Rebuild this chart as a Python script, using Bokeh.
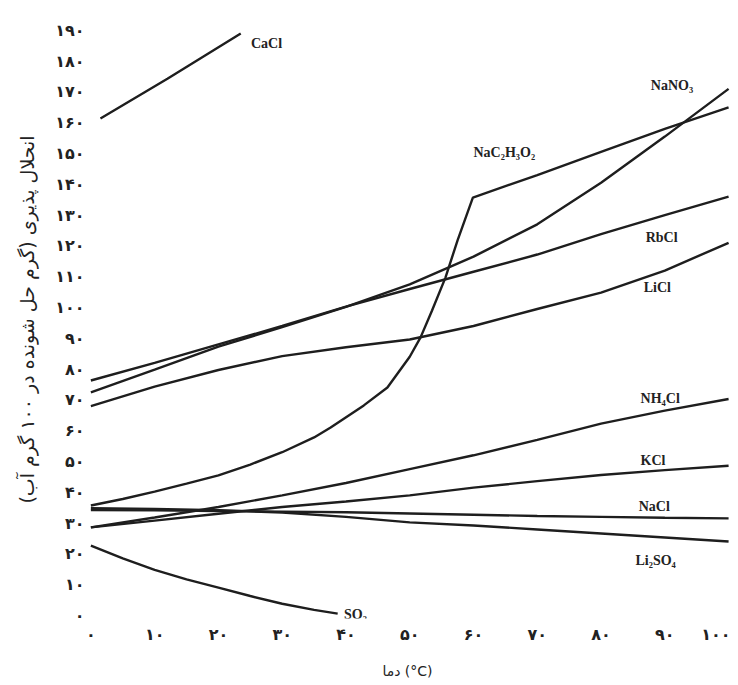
from bokeh.plotting import figure
from bokeh.models import FixedTicker, Range1d
from bokeh.core.properties import value
from bokeh.embed import file_html
from bokeh.resources import INLINE

# ---------------- data ----------------
x_ticks = [0, 10, 20, 30, 40, 50, 60, 70, 80, 90, 100]
x_tick_labels = ["۰", "۱۰", "۲۰", "۳۰", "۴۰", "۵۰", "۶۰", "۷۰", "۸۰", "۹۰", "۱۰۰"]
y_ticks = [0, 10, 20, 30, 40, 50, 60, 70, 80, 90, 100,
           110, 120, 130, 140, 150, 160, 170, 180, 190]
y_tick_labels = ["۰", "۱۰", "۲۰", "۳۰", "۴۰", "۵۰", "۶۰", "۷۰", "۸۰", "۹۰", "۱۰۰",
                 "۱۱۰", "۱۲۰", "۱۳۰", "۱۴۰", "۱۵۰", "۱۶۰", "۱۷۰", "۱۸۰", "۱۹۰"]

temps10 = [0, 10, 20, 30, 40, 50, 60, 70, 80, 90, 100]

cacl2_t = [1.5, 12, 23.5]
cacl2_v = [161.4, 174.3, 189.0]

nano3_v = [72.4, 79.8, 87.3, 93.6, 100.2, 107.5, 116.5, 127.0, 140.5, 155.5, 171.0]
rbcl_v = [76.3, 82.0, 88.0, 94.0, 100.3, 106.0, 111.6, 117.2, 123.8, 130.0, 136.0]
licl_v = [68.0, 74.3, 79.7, 84.2, 87.1, 89.6, 94.0, 99.5, 104.8, 112.0, 121.0]
nh4cl_v = [28.6, 31.8, 35.2, 39.0, 43.0, 47.5, 52.0, 57.0, 62.3, 66.5, 70.3]
kcl_v = [28.6, 30.8, 33.0, 35.2, 37.0, 39.0, 41.5, 43.6, 45.6, 47.2, 48.6]
nacl_v = [34.2, 34.1, 33.9, 33.7, 33.5, 33.1, 32.7, 32.3, 32.0, 31.7, 31.5]
li2so4_v = [34.8, 34.6, 34.2, 33.4, 32.0, 30.2, 29.2, 27.9, 26.6, 25.3, 24.0]

nac2h3o2_t = [0, 5, 10, 15, 20, 25, 30, 35, 37.6, 42.8, 46.5, 50, 51.7, 53.5,
              55.6, 57.5, 59.9, 70, 80, 90, 100]
nac2h3o2_v = [35.7, 37.8, 40.2, 42.8, 45.5, 49.0, 53.0, 57.8, 61.0, 68.2, 74.0, 84.0,
              90.3, 99.0, 109.7, 121.8, 135.7, 143.0, 150.5, 158.0, 165.0]

so2_t = [0, 5, 10, 15, 20, 25, 30, 35, 38.7]
so2_v = [22.7, 18.5, 14.8, 11.7, 9.0, 6.3, 3.8, 1.8, 0.6]

label_names = ["CaCl", "NaNO₃", "NaC₂H₃O₂", "RbCl", "LiCl", "NH₄Cl", "KCl", "NaCl", "Li₂SO₄", "SO₂"]
label_t = [25.1, 87.8, 60.0, 87.0, 86.7, 86.2, 86.2, 85.9, 85.4, 39.7]
label_v = [185.7, 172.0, 150.3, 122.7, 106.5, 70.5, 50.3, 35.4, 17.9, 0.3]

# ---------------- figure ----------------
p = figure(width=730, height=685, output_backend="svg", toolbar_location=None,
           x_range=Range1d(-1, 100.3), y_range=Range1d(-1, 193.2),
           min_border_left=84, min_border_right=0, min_border_top=20, min_border_bottom=67)
p.outline_line_color = None
p.xgrid.grid_line_color = None
p.ygrid.grid_line_color = None
p.background_fill_color = "white"

line_color = "#1e1e1e"
lw = 2.4
p.line(cacl2_t, cacl2_v, line_width=lw, color=line_color)
for vals in [nano3_v, rbcl_v, licl_v, nh4cl_v, kcl_v, nacl_v, li2so4_v]:
    p.line(temps10, vals, line_width=lw, color=line_color)
p.line(nac2h3o2_t, nac2h3o2_v, line_width=lw, color=line_color)
p.line(so2_t, so2_v, line_width=lw, color=line_color)

p.text(x=label_t, y=label_v, text=label_names, text_font=value("Liberation Serif"),
       text_font_size="14px", text_font_style="bold", text_color="#222222",
       text_baseline="middle", text_align="left")

# axes
p.xaxis.ticker = FixedTicker(ticks=x_ticks)
p.xaxis.major_label_overrides = {t: l for t, l in zip(x_ticks, x_tick_labels)}
p.yaxis.ticker = FixedTicker(ticks=y_ticks)
p.yaxis.major_label_overrides = {t: l for t, l in zip(y_ticks, y_tick_labels)}
for ax in [p.xaxis[0], p.yaxis[0]]:
    ax.axis_line_color = None
    ax.major_tick_line_color = None
    ax.minor_tick_line_color = None
    ax.major_label_text_font = "DejaVu Sans"
    ax.major_label_text_font_size = "16px"
    ax.major_label_text_font_style = "bold"
    ax.major_label_text_color = "#222222"
    ax.axis_label_text_font = "DejaVu Sans"
    ax.axis_label_text_font_style = "normal"
    ax.axis_label_text_color = "#222222"
p.xaxis.major_label_standoff = 0
p.yaxis.major_label_standoff = -6
p.xaxis.axis_label = "دما (°C)"
p.xaxis.axis_label_text_font_size = "14px"
p.xaxis.axis_label_standoff = 16
p.yaxis.axis_label = "انحلال پذیری (گرم حل شونده در ۱۰۰ گرم آب)"
p.yaxis.axis_label_text_font_size = "19px"
p.yaxis.axis_label_standoff = 14

open("out.html", "w").write(file_html(p, INLINE))
